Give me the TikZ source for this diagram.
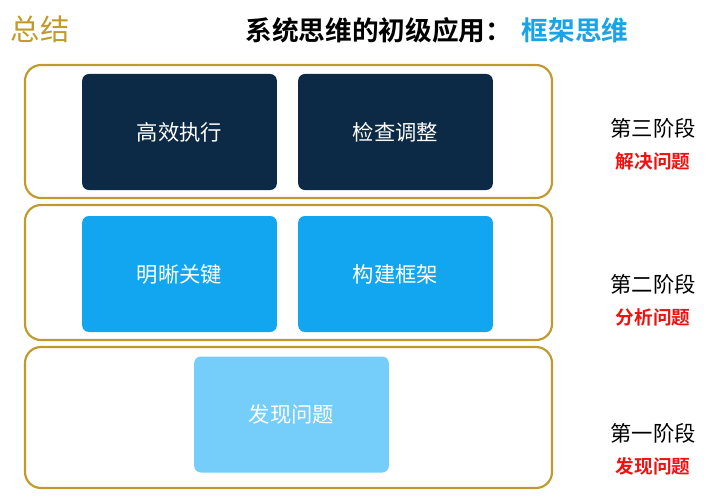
\documentclass[tikz,border=0pt]{standalone}
\usepackage{fontspec}
\newfontfamily\cjk{Noto Sans CJK SC}
\newfontfamily\cjkb{Noto Sans CJK SC Bold}
\usetikzlibrary{positioning}
\definecolor{gold}{HTML}{C09A2A}
\definecolor{navy}{HTML}{0C2A45}
\definecolor{midblue}{HTML}{12A6F0}
\definecolor{lightblue}{HTML}{75CEFA}
\definecolor{titleblue}{HTML}{1AA3E6}
\definecolor{alarm}{HTML}{F01010}
\tikzset{
  stage/.style={draw=gold, line width=1.6pt, rounded corners=12pt},
  task/.style={rounded corners=5pt, minimum width=146pt, minimum height=87pt, font=\cjk\fontsize{16}{18}\selectfont},
  phase/.style={font=\cjk\fontsize{16}{18}\selectfont},
  goal/.style={font=\cjkb\fontsize{14}{16}\selectfont, text=alarm}
}
\begin{document}
\begin{tikzpicture}[x=0.75pt,y=-0.75pt]
\useasboundingbox (0,0) rectangle (724,499);
% titles
\node[font=\cjk\fontsize{22}{24}\selectfont, text=gold, anchor=west] (sum) at (6,29) {总结};
\node[font=\cjkb\fontsize{20}{22}\selectfont, anchor=east] (title) at (517,30) {系统思维的初级应用：};
\node[font=\cjkb\fontsize{20}{22}\selectfont, text=titleblue, anchor=west] (frame) at (517,30) {框架思维};

% stage frames
\draw[stage] (25,65) rectangle (552,198);
\draw[stage] (25,205) rectangle (552,340);
\draw[stage] (25,347) rectangle (552,488);

% tasks
\node[task, fill=navy, text=white] (exec) at (179.5,132) {高效执行};
\node[task, fill=navy, text=white] (check) at (395.5,132) {检查调整};
\node[task, fill=midblue, text=white] (key) at (179.5,274) {明晰关键};
\node[task, fill=midblue, text=white] (build) at (395.5,274) {构建框架};
\node[task, fill=lightblue, text=white] (find) at (291.5,414.5) {发现问题};

% phases
\node[phase] (p3) at (653,128) {第三阶段};
\node[goal, below=4pt of p3] (g3) {解决问题};
\node[phase] (p2) at (653,284) {第二阶段};
\node[goal, below=4pt of p2] (g2) {分析问题};
\node[phase] (p1) at (653,433) {第一阶段};
\node[goal, below=4pt of p1] (g1) {发现问题};
\end{tikzpicture}
\end{document}
